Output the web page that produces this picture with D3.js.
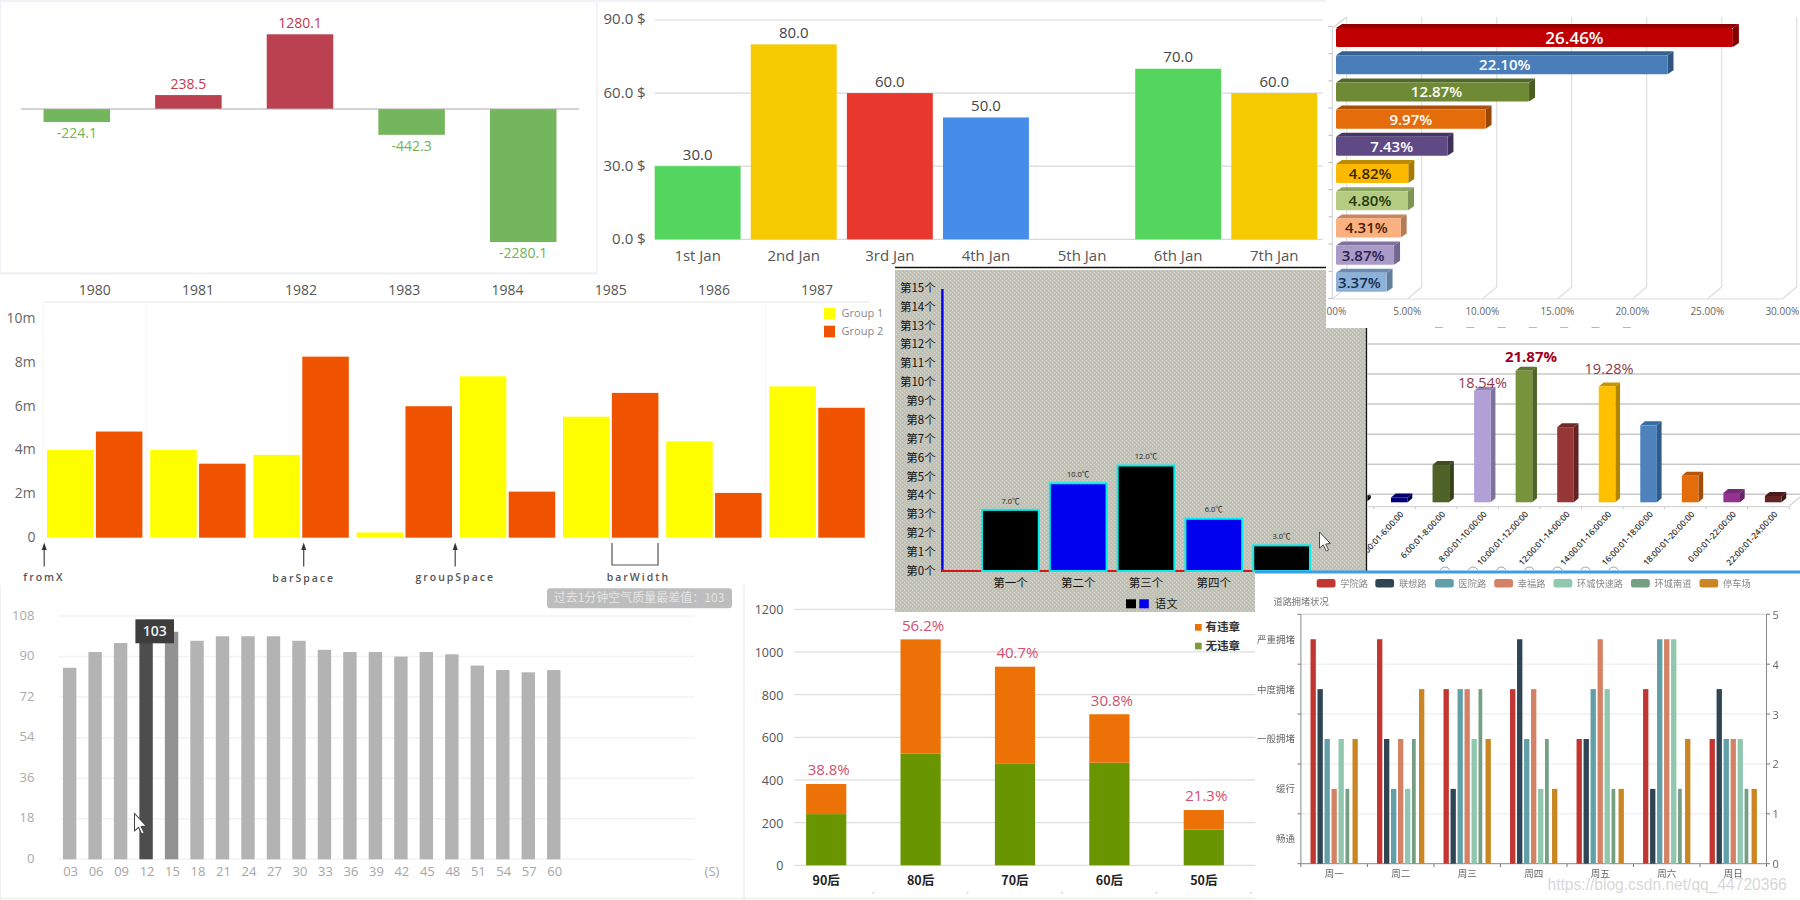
<!DOCTYPE html>
<html><head><meta charset="utf-8">
<script src="https://cdn.jsdelivr.net/npm/d3@7"></script>
<style>
html,body{margin:0;padding:0;background:#fff;overflow:hidden}
svg{display:block}
text{font-family:"Open Sans","Noto Sans CJK SC",sans-serif}
.cjk{font-family:"Noto Sans CJK SC","Open Sans",sans-serif}
</style></head><body>
<svg id="chart" width="1800" height="900"></svg>
<script>
// ---------- panel 1: profit / loss by year
const plYears = ["1980","1981","1982","1983","1984"];
const plValues = [-224.1,238.5,1280.1,-442.3,-2280.1];
// ---------- panel 2: daily amounts
const dayNames = ["1st Jan","2nd Jan","3rd Jan","4th Jan","5th Jan","6th Jan","7th Jan"];
const dayValues = [30,80,60,50,null,70,60];
const dayTicks = [0,30,60,90];
const dayColors = ["#54d65e","#f6ca00","#e8372c","#468dea","#54d65e","#54d65e","#f6ca00"];
// ---------- panel 3: horizontal 3D shares
const shareValues = [26.46,22.10,12.87,9.97,7.43,4.82,4.80,4.31,3.87,3.37];
const shareFront = ["#c00000","#4a7ebb","#6f8a35","#e46c0a","#5f4a86","#fdb900","#b3cc82","#fab07f","#a99bc7","#8cb2d9"];
const shareTop = ["#8f0000","#37618f","#526828","#aa5008","#463664","#bd8b00","#8da563","#c8865a","#80719f","#6b8cb0"];
const shareSide = ["#800000","#2f5680","#4a5e24","#984706","#3f3059","#a67b00","#7f9558","#b87a52","#74668f","#607f9f"];
const shareText = ["#fff","#fff","#fff","#fff","#fff","#3b2a00","#24380c","#4a1c06","#2f2050","#14304f"];
const shareTicks = [0,5,10,15,20,25,30];
// ---------- panel 4: grouped bars
const groupYears = ["1980","1981","1982","1983","1984","1985","1986","1987"];
const group1 = [4.02,4.02,3.79,0.24,7.39,5.54,4.41,6.93];
const group2 = [4.86,3.39,8.29,6.02,2.11,6.63,2.05,5.95];
const groupTicks = [0,2,4,6,8,10];
// ---------- panel 5: black / blue bars on grey
const tempNames = ["第一个","第二个","第三个","第四个","第五个"];
const tempValues = [7,10,12,6,3];
const tempTicks = ["第0个","第1个","第2个","第3个","第4个","第5个","第6个","第7个","第8个","第9个","第10个","第11个","第12个","第13个","第14个","第15个"];
// ---------- panel 6: vertical 3D bars
const slotNames = ["2:00:01-4:00:00","4:00:01-6:00:00","6:00:01-8:00:00","8:00:01-10:00:00","10:00:01-12:00:00","12:00:01-14:00:00","14:00:01-16:00:00","16:00:01-18:00:00","18:00:01-20:00:00","0:00:01-22:00:00","22:00:01-24:00:00"];
const slotValues = [0.5,0.8,6.2,18.54,21.87,12.5,19.28,12.8,4.4,1.55,1.05];
const slotFront = ["#111111","#00007f","#4f6228","#b1a0d7","#77933c","#953735","#ffc000","#4f81bd","#e46c0a","#93338f","#632523"];
const slotTop = ["#000000","#000066","#3f4e20","#9486b4","#5f762f","#73292a","#c79600","#336da1","#b65508","#762976","#4a1b1a"];
const slotSide = ["#000000","#000055","#35421a","#7d7399","#4f6228","#632322","#b38600","#2f5d8a","#a34c07","#672467","#401716"];
const slotLabelled = [18.54,21.87,19.28];
const slotGrid = [0,5,10,15,20,25];
// ---------- panel 7: air quality
const airSeconds = ["03","06","09","12","15","18","21","24","27","30","33","36","39","42","45","48","51","54","57","60"];
const airValues = [85,92,96,103,101,97,99,99,99,97,93,92,92,90,92,91,86,84,83,84];
const airTicks = [0,18,36,54,72,90,108];
const airColors = airSeconds.map(s => s==="12" ? "#4d4d4d" : s==="15" ? "#929292" : "#b3b3b3");
// ---------- panel 8: stacked by generation
const genNames = ["90后","80后","70后","60后","50后"];
const genClean = [240,523,478,481,167];
const genViolation = [141,536,453,227,92];
const genPercent = ["38.8%","56.2%","40.7%","30.8%","21.3%"];
const genTicks = [0,200,400,600,800,1000,1200];
// ---------- panel 9: road congestion
const weekDays = ["周一","周二","周三","周四","周五","周六","周日"];
const roads = ["学院路","联想路","医院路","幸福路","环城快速路","环城南道","停车场"];
const roadColors = ["#c23531","#2f4554","#61a0a8","#d48265","#91c7ae","#749f83","#ca8622"];
const road1 = [4.5,4.5,3.5,3.5,2.5,3.5,2.5];
const road2 = [3.5,2.5,1.5,4.5,2.5,1.5,3.5];
const road3 = [2.5,1.5,3.5,2.5,3.5,4.5,2.5];
const road4 = [1.5,2.5,3.5,3.5,4.5,4.5,2.5];
const road5 = [2.5,1.5,2.5,1.5,3.5,4.5,2.5];
const road6 = [1.5,2.5,3.5,2.5,1.5,1.5,1.5];
const road7 = [2.5,3.5,2.5,1.5,1.5,2.5,1.5];
const roadSeries = [road1,road2,road3,road4,road5,road6,road7];
const levels = ["畅通","缓行","一般拥堵","中度拥堵","严重拥堵"];
const rightTicks = [0,1,2,3,4,5];

const svg = d3.select("#chart");
const defs = svg.append("defs");
function clip(id,x,y,w,h){ defs.append("clipPath").attr("id",id).append("rect").attr("x",x).attr("y",y).attr("width",w).attr("height",h); }
const soft = defs.append("filter").attr("id","soft"); soft.append("feGaussianBlur").attr("stdDeviation",0.45);

function label(g,x,y,str,size,color,anchor,weight){
  return g.append("text").attr("x",x).attr("y",y).attr("dy","0.36em").attr("text-anchor",anchor||"middle")
    .attr("font-size",size).attr("fill",color).attr("font-weight",weight||400).text(str);
}
function hline(g,x1,x2,y,color,w){ g.append("line").attr("x1",x1).attr("x2",x2).attr("y1",y).attr("y2",y).attr("stroke",color).attr("stroke-width",w||1); }
function vline(g,x,y1,y2,color,w){ g.append("line").attr("x1",x).attr("x2",x).attr("y1",y1).attr("y2",y2).attr("stroke",color).attr("stroke-width",w||1); }
function cursor(g,x,y,s){
  g.append("path").attr("transform",`translate(${x},${y}) scale(${s})`)
   .attr("d","M0,0 L0,17 L4,13.5 L7,20 L9.5,19 L6.5,12.7 L11.5,12.2 Z").attr("fill","#fff").attr("stroke","#444").attr("stroke-width",1);
}

// ================ panel 1
(function(){
  const g = svg.append("g");
  hline(g,0,597,1,"#f0f0f6",2); vline(g,0.5,0,273,"#f0f0f6",1); hline(g,0,597,273.5,"#eeeef4",2); vline(g,597,0,273,"#f0f0f6",1.5);
  const x = d3.scaleBand().domain(plYears).range([21,579]).paddingInner(0.404).paddingOuter(0.202);
  const y = d3.scaleLinear().domain([0,1280.1]).range([109,34.3]);
  g.selectAll("rect").data(plValues).join("rect")
    .attr("x",(d,i)=>x(plYears[i])).attr("width",x.bandwidth())
    .attr("y",d=>Math.min(y(d),y(0))).attr("height",d=>Math.abs(y(d)-y(0)))
    .attr("fill",d=>d>0?"#bb4050":"#74b65d");
  hline(g,21,579,109,"#aaaaaa",1.2);
  plValues.forEach((d,i)=>{
    label(g,x(plYears[i])+x.bandwidth()/2,d>0?y(d)-11:y(d)+11,d.toFixed(1),14,d>0?"#c4384c":"#6cb556");
  });
})();

// ================ panel 2
(function(){
  const g = svg.append("g");
  hline(g,597,1326,1,"#f2f2f7",2);
  const x = d3.scaleBand().domain(dayNames).range([649.6,1322.3]).paddingInner(0.106).paddingOuter(0.053);
  const y = d3.scaleLinear().domain([0,90]).range([239.3,20]);
  dayTicks.forEach(t=>{ hline(g,654.7,1322.5,y(t),"#d8d8d8",1.2); label(g,645.7,y(t)-1,t.toFixed(1)+" $",15,"#555","end"); });
  dayValues.forEach((d,i)=>{
    if(d!==null){
      g.append("rect").attr("x",x(dayNames[i])).attr("width",x.bandwidth()).attr("y",y(d)).attr("height",y(0)-y(d)).attr("fill",dayColors[i]);
      label(g,x(dayNames[i])+x.bandwidth()/2,y(d)-12,d.toFixed(1),15,"#444");
    }
    label(g,x(dayNames[i])+x.bandwidth()/2,256,dayNames[i],15,"#555");
  });
})();

// ================ panel 4
(function(){
  const g = svg.append("g");
  hline(g,43,870,302,"#efefef",1.5); vline(g,43,302,537,"#f4f4f4",1);
  const x = d3.scaleBand().domain(groupYears).range([43.1,868.7]);
  const sub = d3.scaleBand().domain([0,1]).range([3.9,x.bandwidth()-3.9]).paddingInner(0.048);
  const y = d3.scaleLinear().domain([0,10]).range([537.7,319.3]);
  [1,7].forEach(i=>vline(g,x(groupYears[i]),302,537,"#f6f6f6",1));
  groupYears.forEach((yr,i)=>{
    label(g,x(yr)+x.bandwidth()/2,290,yr,14,"#555");
    [group1[i],group2[i]].forEach((v,j)=>{
      g.append("rect").attr("x",x(yr)+sub(j)).attr("width",sub.bandwidth()).attr("y",y(v)).attr("height",y(0)-y(v)).attr("fill",j?"#ef5300":"#ffff00");
    });
  });
  groupTicks.forEach(t=>label(g,35.6,y(t)-1,t===0?"0":t+"m",14,"#666","end"));
  g.append("rect").attr("x",824).attr("y",307.7).attr("width",11).attr("height",11.6).attr("fill","#ffff00");
  g.append("rect").attr("x",824).attr("y",325.7).attr("width",11).attr("height",11.6).attr("fill","#ef5300");
  label(g,841.6,313.5,"Group 1",11,"#888","start");
  label(g,841.6,331.5,"Group 2",11,"#888","start");
  const ann = g.append("g");
  function arrow(ax){ vline(ann,ax,547,566.5,"#444",1.2); ann.append("path").attr("d",`M${ax},542.5 L${ax-2.5},550 L${ax+2.5},550 Z`).attr("fill","#333"); }
  function ctext(cx,cy,str){ ann.append("text").attr("x",cx).attr("y",cy).attr("dy","0.36em").attr("text-anchor","middle")
      .attr("font-size",10.5).attr("fill","#555").attr("font-weight",600).attr("letter-spacing",2)
      .text(str); }
  arrow(44.2); arrow(303.7); arrow(455.2);
  ctext(44,577.7,"fromX"); ctext(303.7,578.7,"barSpace"); ctext(455.2,577.7,"groupSpace"); ctext(638.4,577.7,"barWidth");
  ann.append("path").attr("d","M612,543 V565 H658 V543").attr("fill","none").attr("stroke","#555").attr("stroke-width",1.2);
})();

// ================ panel 7
(function(){
  const g = svg.append("g");
  hline(g,0,745,898.5,"#efeff3",1.5); vline(g,744,585,898,"#f0f0f4",1.5); vline(g,0.5,585,898,"#f0f0f4",1);
  const x = d3.scaleBand().domain(airSeconds).range([56.9,566.5]).paddingInner(0.474).paddingOuter(0.237);
  const y = d3.scaleLinear().domain([0,108]).range([859.3,616]);
  airTicks.forEach(t=>{ hline(g,58.4,694.7,y(t),"#f3f3f3",1.5); label(g,34.4,y(t)-1,t,13,"#aaa","end"); });
  airValues.forEach((d,i)=>{
    g.append("rect").attr("x",x(airSeconds[i])).attr("width",x.bandwidth()).attr("y",y(d)).attr("height",y(0)-y(d)).attr("fill",airColors[i]);
    label(g,x(airSeconds[i])+x.bandwidth()/2+1,871,airSeconds[i],13,"#a6a6a6");
  });
  label(g,712,871.5,"(S)",13,"#a6a6a6");
  g.append("rect").attr("x",135.4).attr("y",619.3).attr("width",38.6).attr("height",24).attr("fill","#3d3d3d");
  label(g,154.7,631,d3.max(airValues),14,"#eee","middle",600);
  g.append("rect").attr("x",547).attr("y",588.3).attr("width",185).attr("height",20).attr("rx",3).attr("fill","#bdbdbd");
  label(g,639,598,"过去1分钟空气质量最差值：103",12,"#e4e4e4").attr("class","cjk");
  cursor(g,134.5,813.5,1.02);
})();

// ================ panel 8
(function(){
  const g = svg.append("g");
  vline(g,744.5,590,898,"#f2f2f6",1); hline(g,745,1255,898.5,"#eeeef2",1.5);
  const x = d3.scaleBand().domain(genNames).range([779,1251]).paddingInner(0.574).paddingOuter(0.287);
  const y = d3.scaleLinear().domain([0,1200]).range([865.3,609.3]);
  genTicks.forEach(t=>{ hline(g,794.3,1255,y(t),"#dedede",1.3); label(g,783.3,y(t)+0.5,t,12.5,"#555","end"); });
  genNames.forEach((n,i)=>{
    const cx = x(n)+x.bandwidth()/2;
    const a = genClean[i], b = genClean[i]+genViolation[i];
    g.append("rect").attr("x",x(n)).attr("width",x.bandwidth()).attr("y",y(a)).attr("height",y(0)-y(a)).attr("fill","#699600");
    g.append("rect").attr("x",x(n)).attr("width",x.bandwidth()).attr("y",y(b)).attr("height",y(a)-y(b)).attr("fill","#ec7208");
    label(g,cx+2.5,y(b)-14,genPercent[i],15,"#d0506e");
    label(g,cx,880,n,12.5,"#222","middle",700).attr("class","cjk");
    vline(g,x(n)+x.bandwidth()/2+47,892,893.5,"#ccc",1.5);
  });
  g.append("rect").attr("x",1195).attr("y",624).attr("width",6.7).attr("height",6.7).attr("fill","#ec7208");
  g.append("rect").attr("x",1195).attr("y",642.7).attr("width",6.7).attr("height",6.7).attr("fill","#7e9a3a");
  label(g,1205.5,627.3,"有违章",11.5,"#333","start",700).attr("class","cjk");
  label(g,1205.5,645.7,"无违章",11.5,"#333","start",700).attr("class","cjk");
})();

// ================ panel 5
(function(){
  const pat = defs.append("pattern").attr("id","dots").attr("width",4).attr("height",4).attr("patternUnits","userSpaceOnUse");
  pat.append("rect").attr("width",4).attr("height",4).attr("fill","#c4c4c6");
  pat.append("rect").attr("x",0).attr("y",0).attr("width",2).attr("height",2).attr("fill","#bcbcc6");
  pat.append("rect").attr("x",2).attr("y",2).attr("width",2).attr("height",2).attr("fill","#bcbcc6");
  pat.append("rect").attr("x",2).attr("y",0).attr("width",1).attr("height",1).attr("fill","#d6d6b8");
  pat.append("rect").attr("x",0).attr("y",2).attr("width",1).attr("height",1).attr("fill","#d6d6b8");
  clip("p5",895,270,471,342);
  const outer = svg.append("g");
  outer.append("rect").attr("x",895).attr("y",270).attr("width",471).attr("height",342).attr("fill","url(#dots)");
  hline(outer,895,1326,267.5,"#111",1.5);
  vline(outer,1366.6,328,572,"#111",1.5);
  const g = outer.append("g").attr("clip-path","url(#p5)");
  const y = d3.scaleLinear().domain([0,32]).range([571,287]);
  const tickY = d3.scalePoint().domain(tempTicks).range([570.7,287.7]);
  const x = d3.scaleBand().domain(tempNames).range([976.5,1315.5]).paddingInner(0.134).paddingOuter(0.067);
  tempTicks.forEach(t=>label(g,935.7,tickY(t),t,11.5,"#111","end").attr("class","cjk"));
  vline(g,942.4,289,572,"#0000ee",2.4);
  hline(g,942,1256,571,"#d01818",2.2);
  tempNames.forEach((n,i)=>{
    const v = tempValues[i];
    g.append("rect").attr("x",x(n)+1).attr("width",x.bandwidth()-2).attr("y",y(v)+1).attr("height",y(0)-y(v)-1)
      .attr("fill",i%2?"#0000ee":"#000").attr("stroke","#00eeee").attr("stroke-width",2);
    label(g,x(n)+x.bandwidth()/2,y(v)-8,v.toFixed(1)+"℃",7.5,"#222");
    label(g,x(n)+x.bandwidth()/2,582.7,n,11.5,"#111").attr("class","cjk");
  });
  g.append("rect").attr("x",1126).attr("y",599.3).attr("width",10).attr("height",9).attr("fill","#000");
  g.append("rect").attr("x",1139.3).attr("y",599.3).attr("width",9.5).attr("height",9).attr("fill","#0000ee");
  label(g,1155,603.7,"语文",11,"#111","start").attr("class","cjk").attr("letter-spacing",0.6);
  cursor(g,1319.5,532,0.95);
})();

// ================ panel 3
(function(){
  clip("p3",1326,0,474,328);
  const outer = svg.append("g");
  outer.append("rect").attr("x",1326).attr("y",0).attr("width",474).attr("height",328).attr("fill","#fff");
  const g = outer.append("g").attr("clip-path","url(#p3)");
  const xs = d3.scaleLinear().domain([0,30]).range([0,450]);
  const ys = d3.scaleBand().domain(d3.range(shareValues.length)).range([23.92,295.92]).paddingInner(0.3).paddingOuter(0.15);
  const front0 = 1336, back0 = 1346.7, floor0 = 1332.3;
  shareTicks.forEach(t=>{
    vline(g,back0+xs(t),17,287,"#dcdcdc",1.1);
    g.append("line").attr("x1",back0+xs(t)).attr("y1",287).attr("x2",floor0+xs(t)).attr("y2",299).attr("stroke","#dcdcdc").attr("stroke-width",1.1);
    label(g,floor0+xs(t),311,t.toFixed(2)+"%",10,"#666");
  });
  vline(g,floor0,28,299,"#d4d4d4",1.1);
  g.append("line").attr("x1",floor0).attr("y1",28).attr("x2",back0).attr("y2",17).attr("stroke","#d4d4d4").attr("stroke-width",1.1);
  hline(g,floor0,floor0+xs(30),299,"#dcdcdc",1.1);
  d3.range(shareValues.length+1).forEach(i=>{
    hline(g,1328.5,floor0,ys(0)+ys.step()*i-1.5,"#bbb",1);
  });
  const dx=6, dy=4;
  shareValues.forEach((v,i)=>{
    const X=front0, W=xs(v), Y=ys(i), H=ys.bandwidth();
    g.append("path").attr("d",`M${X},${Y} L${X+dx},${Y-dy} H${X+W+dx} L${X+W},${Y} Z`).attr("fill",shareTop[i]);
    g.append("path").attr("d",`M${X+W},${Y} L${X+W+dx},${Y-dy} V${Y+H-dy} L${X+W},${Y+H} Z`).attr("fill",shareSide[i]);
    g.append("rect").attr("x",X).attr("y",Y).attr("width",W).attr("height",H).attr("rx",1.5).attr("fill",shareFront[i]);
    const nudge = [40,3,4][i] || (i>=5 ? -2 : 0);
    label(g,X+W/2+nudge,Y+H/2,v.toFixed(2)+"%",i===0?17:15,shareText[i],"middle",600);
  });
  d3.range(7).forEach(i=>hline(g,1435+i*31.3,1443+i*31.3,328,"#888",1.2));
})();

// ================ panel 6
(function(){
  clip("p6",1367.4,328,433,242);
  const outer = svg.append("g");
  outer.append("rect").attr("x",1367.4).attr("y",328).attr("width",433).attr("height",242).attr("fill","#fff");
  const g = outer.append("g").attr("clip-path","url(#p6)");
  const x = d3.scaleBand().domain(slotNames).range([1337,1794]).paddingInner(0.6).paddingOuter(0.3);
  const y = d3.scaleLinear().domain([0,25]).range([494.3,344]);
  const h = d3.scaleLinear().domain([0,25]).range([502.3,352]);
  slotGrid.forEach(t=>hline(g,1367,1800,y(t),"#c8c8c8",1.5));
  hline(g,1367,1788.5,506.7,"#d4d4d4",1.2);
  g.append("line").attr("x1",1788.5).attr("y1",506.7).attr("x2",1800).attr("y2",497).attr("stroke","#d4d4d4").attr("stroke-width",1.2);
  slotNames.forEach(n=>vline(g,x(n)+x.bandwidth()/2+16,506.7,509.5,"#ccc",1));
  const dx=4.7, dy=4;
  slotValues.forEach((v,i)=>{
    const n = slotNames[i], X=x(n), W=x.bandwidth(), T=h(v), B=h(0);
    g.append("path").attr("d",`M${X},${T} L${X+dx},${T-dy} H${X+W+dx} L${X+W},${T} Z`).attr("fill",slotTop[i]);
    g.append("path").attr("d",`M${X+W},${T} L${X+W+dx},${T-dy} V${B-dy} L${X+W},${B} Z`).attr("fill",slotSide[i]);
    g.append("rect").attr("x",X).attr("y",T).attr("width",W).attr("height",B-T).attr("fill",slotFront[i]);
    const cx = X+W/2;
    g.append("text").attr("transform",`translate(${cx+3},${513}) rotate(-47)`).attr("text-anchor","end").attr("dy","0.3em")
      .attr("font-size",8.5).attr("font-weight",600).attr("fill","#333").text(n);
    if(slotLabelled.includes(v)){
      const top = v===d3.max(slotValues);
      label(g,cx+(top?7:v===18.54?0:2),top?T-14:v===18.54?T-8:T-18,v.toFixed(2)+"%",top?15:14.5,top?"#a00020":"#8f3a4c","middle",top?700:400);
    }
  });
  d3.range(7).forEach(i=>g.append("circle").attr("cx",1445+i*28.1).attr("cy",572).attr("r",5).attr("fill","#fff").attr("stroke","#888").attr("stroke-width",0.8));
})();

// ================ panel 9
(function(){
  const g = svg.append("g");
  g.append("rect").attr("x",1255).attr("y",571).attr("width",545).attr("height",329).attr("fill","#fff");
  g.append("rect").attr("x",1255).attr("y",570.5).attr("width",545).attr("height",3).attr("fill","#3f9ceb");
  const t = g.append("g").attr("filter","url(#soft)");
  const x = d3.scaleBand().domain(weekDays).range([1300.9,1766.5]);
  const inner = d3.scaleBand().domain(d3.range(7)).range([9.6,x.bandwidth()-9.6]).paddingInner(0.24);
  const y = d3.scaleLinear().domain([0,5]).range([863.7,614.3]);
  const yLev = d3.scaleBand().domain(levels).range([863.7,614.3]);
  rightTicks.forEach(v=>{
    hline(g,1300.9,1766.5,y(v),v===0?"#888":v===5?"#ddd":"#f1f1f1",v===0?1:1.4);
    hline(g,1297.5,1300.9,y(v),"#777",1);
    hline(g,1766.5,1770,y(v),"#777",1);
    label(t,1772.5,y(v)+0.5,v,11,"#666","start");
  });
  vline(g,1300.9,614.3,863.7,"#888",1);
  vline(g,1766.5,614.3,863.7,"#888",1);
  levels.forEach(l=>label(t,1295,yLev(l)+yLev.bandwidth()/2,l,9.5,"#666","end").attr("class","cjk"));
  weekDays.forEach((d,i)=>{
    vline(g,x(d),863.7,867,"#777",1);
    label(t,x(d)+x.bandwidth()/2,873.5,d,9.5,"#666").attr("class","cjk");
    roadSeries.forEach((s,j)=>{
      g.append("rect").attr("x",x(d)+inner(j)).attr("width",j===5?inner.bandwidth()*0.7:inner.bandwidth())
        .attr("y",y(s[i])).attr("height",y(0)-y(s[i])).attr("fill",roadColors[j]);
    });
  });
  vline(g,1766.5,863.7,867,"#777",1);
  const swatchX=[1316.7,1375.3,1435,1494.2,1553.5,1631,1699.5];
  roads.forEach((r,j)=>{
    g.append("rect").attr("x",swatchX[j]).attr("y",579).attr("width",18.8).attr("height",8.6).attr("rx",2.5).attr("fill",roadColors[j]);
    label(t,swatchX[j]+23.6,584,r,9.2,"#888","start").attr("class","cjk");
  });
  label(t,1273.5,601.7,"道路拥堵状况",9.2,"#777","start").attr("class","cjk");
  g.append("text").attr("x",1547.5).attr("y",884).attr("dy","0.36em").attr("font-size",15.6)
    .attr("fill","#cfcfcf").attr("fill-opacity",0.85).style("font-family","'Liberation Sans',sans-serif").text("https://blog.csdn.net/qq_44720366");
})();
</script></body></html>
